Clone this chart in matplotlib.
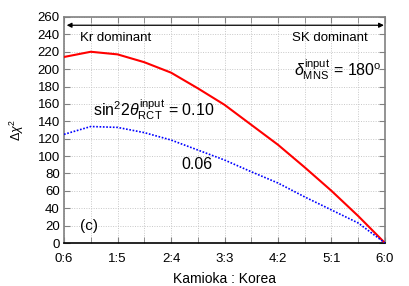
import matplotlib
matplotlib.use("Agg")
import matplotlib.pyplot as plt
from matplotlib.ticker import MultipleLocator

plt.rcParams['font.family'] = ['Liberation Sans', 'DejaVu Sans']
plt.rcParams['mathtext.fontset'] = 'custom'
plt.rcParams['mathtext.rm'] = 'Liberation Sans'
plt.rcParams['mathtext.it'] = 'Liberation Sans:italic'

x_pos = [0, 0.5, 1, 1.5, 2, 2.5, 3, 3.5, 4, 4.5, 5, 5.5, 6]
chi2_010 = [214, 220, 217, 208, 196, 178, 159, 136, 113, 87, 60, 31, 0]
chi2_006 = [125, 134, 133, 127, 118.5, 107, 95.5, 82, 69, 53, 38, 23, 0]
tick_pos = [0, 1, 2, 3, 4, 5, 6]
tick_labels = ['0:6', '1:5', '2:4', '3:3', '4:2', '5:1', '6:0']

fig = plt.figure(figsize=(4.09, 2.86), dpi=100)
ax = fig.add_axes([0.1565, 0.1503, 0.9413 - 0.1565, 0.9406 - 0.1503])

ax.plot(x_pos, chi2_010, color='#ff0000', lw=1.5, zorder=3)
ax.plot(x_pos, chi2_006, color='#0000ff', lw=1.2, ls=(0, (1, 1)), zorder=3)

ax.set_xlim(0, 6)
ax.set_ylim(0, 260)
ax.set_xticks(tick_pos)
ax.set_xticklabels(tick_labels)
ax.xaxis.set_minor_locator(MultipleLocator(0.5))
ax.yaxis.set_major_locator(MultipleLocator(20))
ax.grid(True, which='both', color='#c8c8c8', ls=(0, (1, 1.5)), lw=0.7)
ax.tick_params(which='both', direction='in', top=True, right=True, labelsize=9.5, length=4, color='#808080')
ax.tick_params(axis='x', pad=7)
ax.tick_params(axis='y', pad=3)
for s in ['left', 'right', 'top']:
    ax.spines[s].set_color('#808080')
ax.spines['bottom'].set_color('black')
for s in ax.spines.values():
    s.set_linewidth(1.2)

ax.set_xlabel('Kamioka : Korea', fontsize=10, labelpad=5)
ax.set_ylabel(r'$\mathit{\Delta\chi}^2$', fontsize=9, labelpad=8)

ax.annotate('', xy=(0.05, 250.5), xytext=(5.98, 250.5),
            arrowprops=dict(arrowstyle='<|-|>', color='black', lw=0.9, mutation_scale=7,
                            shrinkA=0, shrinkB=0))
ax.text(0.3, 243, 'Kr dominant', fontsize=9.5, ha='left', va='top')
ax.text(5.68, 243, 'SK dominant', fontsize=9.5, ha='right', va='top')
ax.text(5.93, 199, r'$\mathit{\delta}_{\rm MNS}^{\rm input}$ = 180$^{\rm o}$', fontsize=11.5, ha='right', va='center')
ax.text(0.54, 154, r'sin$^2$2$\mathit{\theta}_{\rm RCT}^{\rm input}$ = 0.10', fontsize=11.5, ha='left', va='center')
ax.text(2.2, 90, '0.06', fontsize=11.5, ha='left', va='center')
ax.text(0.3, 19, '(c)', fontsize=11, ha='left', va='center')

fig.savefig('out.png', dpi=100)
